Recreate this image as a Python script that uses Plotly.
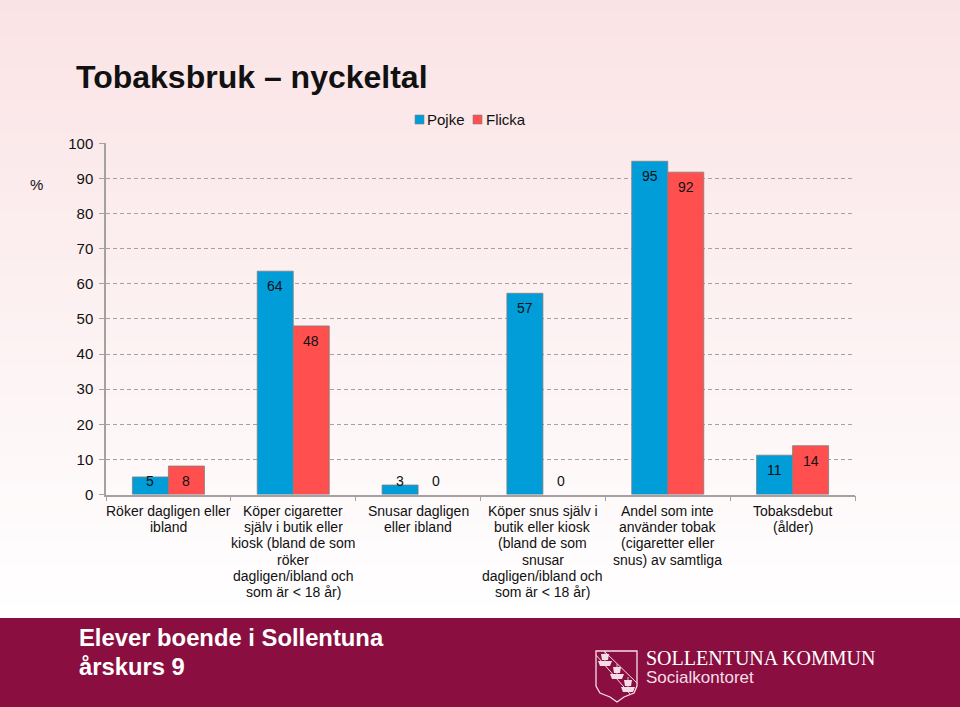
import plotly.graph_objects as go

categories = ["Röker dagligen eller ibland", "Köper cigaretter själv", "Snusar dagligen", "Köper snus själv", "Andel som inte", "Tobaksdebut"]
category_lines = [
    ["Röker dagligen eller", "ibland"],
    ["Köper cigaretter", "själv i butik eller", "kiosk (bland de som", "röker", "dagligen/ibland och", "som är < 18 år)"],
    ["Snusar dagligen", "eller ibland"],
    ["Köper snus själv i", "butik eller kiosk", "(bland de som", "snusar", "dagligen/ibland och", "som är < 18 år)"],
    ["Andel som inte", "använder tobak", "(cigaretter eller", "snus) av samtliga"],
    ["Tobaksdebut", "(ålder)"],
]
pojke = [5.0, 63.6, 2.7, 57.3, 94.9, 11.2]
flicka = [8.1, 48.0, 0, 0, 91.8, 13.9]
pojke_labels = ["5", "64", "3", "57", "95", "11"]
flicka_labels = ["8", "48", "0", "0", "92", "14"]
y_ticks = list(range(0, 101, 10))

W, H = 960, 707
FONT = "Liberation Sans"
BLUE, RED = "#009DD9", "#FF4F4F"
EDGE = "#7F7F7F"
MAROON = "#8A0F40"
AXIS = "#A6A0A0"
L, R, T, B = 106, 855, 143, 494.5
Y_MAX = 100.1

def px(x): return x / W
def py(y): return 1 - y / H

shapes = []
top, bottom = (250, 227, 229), (255, 255, 255)
for y0 in range(0, 618, 6):
    t = min(y0 / 615, 1)
    c = [round(a + (b - a) * t) for a, b in zip(top, bottom)]
    shapes.append(dict(type="rect", xref="paper", yref="paper", layer="below", x0=0, x1=1,
                       y0=py(y0), y1=py(y0 + 6), fillcolor=f"rgb({c[0]},{c[1]},{c[2]})", line_width=0))
shapes.append(dict(type="rect", xref="paper", yref="paper", layer="below", x0=0, x1=1,
                   y0=py(707), y1=py(618), fillcolor=MAROON, line_width=0))

def path(points, close=True):
    return "M" + "L".join(f"{px(x):.5f},{py(y):.5f}" for x, y in points) + ("Z" if close else "")

LOGO = "#F4DDE6"
def logo_shape(points, close=True, width=1.0, fill=None):
    d = dict(type="path", xref="paper", yref="paper", path=path(points, close))
    if fill:
        d.update(fillcolor=fill, line_width=0)
    else:
        d.update(line=dict(color=LOGO, width=width))
    shapes.append(d)

logo_shape([(596, 651), (637, 651), (637, 686), (634, 693), (624, 697), (617, 702), (610, 697), (600, 693), (596, 686)], width=1.3)
logo_shape([(604, 651), (637, 683)], False)
logo_shape([(596, 655), (630, 694)], False)
for sx, sy in [(605, 661), (617, 674), (628, 687)]:
    logo_shape([(sx - 7, sy), (sx + 7, sy), (sx + 5, sy + 5), (sx - 5, sy + 5)], fill=LOGO)
    logo_shape([(sx - 4, sy - 7), (sx + 4, sy - 7), (sx + 3, sy - 1), (sx - 3, sy - 1)], fill=LOGO)
    logo_shape([(sx, sy - 10), (sx, sy)], False, width=0.8)

for x0, col in ((415, BLUE), (473, RED)):
    shapes.append(dict(type="rect", xref="paper", yref="paper", x0=px(x0), x1=px(x0 + 9),
                       y0=py(124), y1=py(115), fillcolor=col, line=dict(color=EDGE, width=0.6)))

def edge_widths(values):
    return [0.8 if v > 0 else 0 for v in values]

fig = go.Figure()
fig.add_bar(name="Pojke", x=categories, y=pojke,
            marker=dict(color=BLUE, line=dict(color=EDGE, width=edge_widths(pojke))))
fig.add_bar(name="Flicka", x=categories, y=flicka,
            marker=dict(color=RED, line=dict(color=EDGE, width=edge_widths(flicka))))

annotations = []
BAR_OFFSET = 18
UNITS_PER_PX = Y_MAX / (B - T)
for cat, p, f, pl, fl in zip(categories, pojke, flicka, pojke_labels, flicka_labels):
    for v, lab, sx in ((p, pl, -BAR_OFFSET), (f, fl, BAR_OFFSET)):
        annotations.append(dict(x=cat, y=max(v - 15 * UNITS_PER_PX, 13.5 * UNITS_PER_PX), xref="x", yref="y",
                                text=lab, showarrow=False, xshift=sx, xanchor="center", yanchor="middle",
                                font=dict(family=FONT, size=14, color="#111111")))
for cat, lines in zip(categories, category_lines):
    for i, line in enumerate(lines):
        annotations.append(dict(x=cat, y=0, xref="x", yref="y domain", text=line, showarrow=False,
                                yshift=-(16.5 + 16.2 * i), xanchor="center", yanchor="middle",
                                font=dict(family=FONT, size=14, color="#111111")))

def page_text(x, y, text, size, color="#000000", bold=False, family=FONT):
    annotations.append(dict(x=px(x), y=py(y), xref="paper", yref="paper", text=f"<b>{text}</b>" if bold else text,
                            showarrow=False, xanchor="left", yanchor="middle", xshift=-1,
                            font=dict(family=family, size=size, color=color)))

page_text(75, 77, "Tobaksbruk – nyckeltal", 32, "#111111", True)
page_text(29, 184, "%", 15, "#111111")
page_text(78, 637, "Elever boende i Sollentuna", 23.8, "#FFFFFF", True)
page_text(78, 666, "årskurs 9", 23.8, "#FFFFFF", True)
page_text(645, 658, "SOLLENTUNA KOMMUN", 20, "#FFFFFF", family="Liberation Serif")
page_text(645, 677, "Socialkontoret", 17, "#F4DDE6")
page_text(426, 119, "Pojke", 15, "#111111")
page_text(485, 119, "Flicka", 15, "#111111")

fig.update_layout(
    width=W, height=H, autosize=False,
    margin=dict(l=0, r=0, t=0, b=0, pad=0, autoexpand=False),
    paper_bgcolor="rgba(0,0,0,0)", plot_bgcolor="rgba(0,0,0,0)",
    barmode="group", bargap=0.423, bargroupgap=0,
    font=dict(family=FONT, size=14, color="#111111"),
    showlegend=False,
    shapes=shapes, annotations=annotations,
    xaxis=dict(domain=[px(L), px(R)], type="category", range=[-0.5, 5.5], showticklabels=False,
               ticks="outside", ticklen=5, tickcolor=AXIS, tickson="boundaries", showline=True,
               linecolor=AXIS, linewidth=1.5, showgrid=False, zeroline=False, fixedrange=True, automargin=False),
    yaxis=dict(domain=[py(B), py(T)], range=[0, Y_MAX], tickvals=y_ticks, ticks="outside", ticklen=5,
               tickcolor=AXIS, showline=True, linecolor=AXIS, linewidth=1.5, automargin=False,
               showgrid=True, gridcolor=AXIS, griddash="4px,3px", gridwidth=1, zeroline=False,
               tickfont=dict(family=FONT, size=15, color="#111111"), ticklabelstandoff=3, fixedrange=True),
)
fig.write_html("out.html", config=dict(displayModeBar=False),
               post_script="document.body.style.margin='0';document.documentElement.style.overflow='hidden';")
